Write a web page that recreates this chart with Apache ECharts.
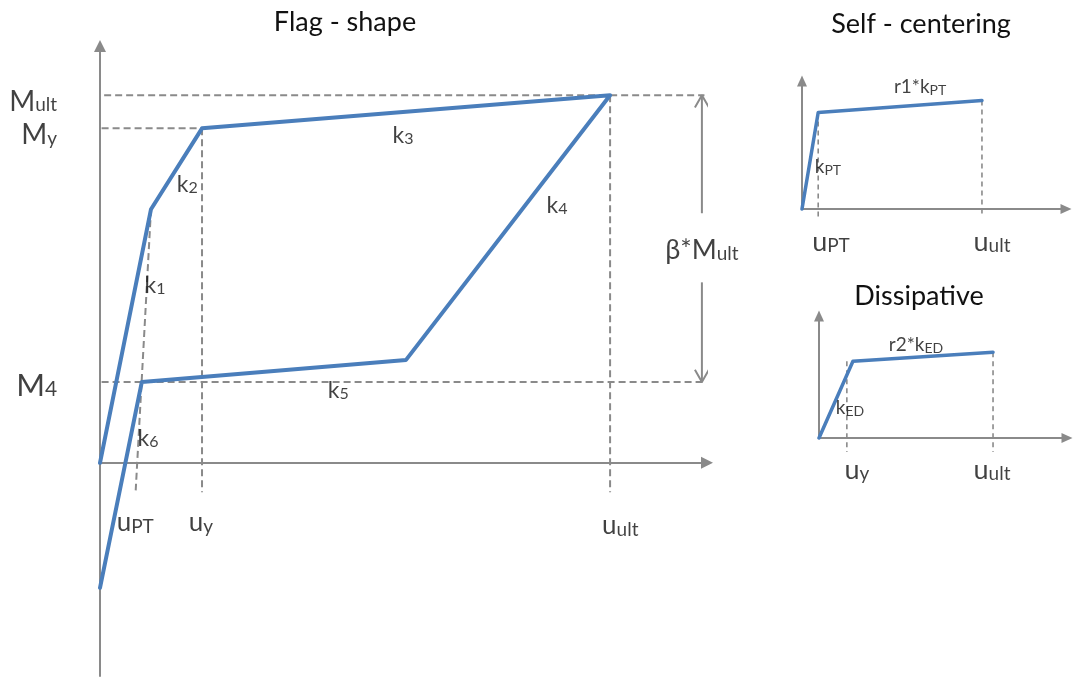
<!DOCTYPE html>
<html>
<head>
<meta charset="utf-8">
<script src="https://cdn.jsdelivr.net/npm/echarts@6/dist/echarts.min.js"></script>
<style>
  html, body { margin: 0; padding: 0; background: #fff; }
  #chart { width: 1075px; height: 677px; }
</style>
</head>
<body>
<div id="chart"></div>
<script>
// ---- Flag-shaped hysteresis (moment M against displacement u) ----
const M_ult = 100, M_y = 91, M_4 = 22;
const u_PT = 0.82, u_y = 2, u_ult = 10;
const flagU = [0, 1, u_y, u_ult, 6, u_PT, 0];
const flagM = [0, 69, M_y, M_ult, 28, M_4, -34];
const betaX = 11.8;                 // position of the beta*M_ult dimension arrow
const betaGap = [49.1, 67.9];       // gap left open for its caption

// ---- Self-centering component ----
const scU = [0, 0.9, 10];
const scF = [0, 7.2, 8.1];

// ---- Dissipative component ----
const dsU = [0, 1.95, 10];
const dsF = [0, 6.0, 6.7];
const ds_uy = 1.6;

// ---- Annotations (anchored in each plot's own units) ----
const mainMLabels = [
  { text: '{a|M}{s|ult}', x: -0.84, y: 98.3 },
  { text: '{a|M}{s|y}',   x: -0.84, y: 89.1 }
];
const mainM4Label = [{ text: '{a|M}{s|4}', x: -0.84, y: 20.8 }];
const mainKLabels = [
  { text: '{a|k}{s|1}', x: 1.08, y: 48.3 },
  { text: '{a|k}{s|2}', x: 1.71, y: 75.8 },
  { text: '{a|k}{s|3}', x: 5.94, y: 89.1 },
  { text: '{a|k}{s|4}', x: 8.96, y: 70.1 },
  { text: '{a|k}{s|5}', x: 4.67, y: 19.7 },
  { text: '{a|k}{s|6}', x: 0.94, y: 6.7 }
];
const mainULabels = [
  { text: '{a|u}{s|PT}',  x: 0.69,  y: -16.3 },
  { text: '{a|u}{s|y}',   x: 1.98,  y: -16.3 },
  { text: '{a|u}{s|ult}', x: 10.2,  y: -17.0 }
];
const betaLabel = [{ text: '{a|β*M}{s|ult}', x: betaX, y: 57.8 }];

const scSmall = [
  { text: '{a|r1*k}{s|PT}', x: 6.56, y: 9.1 },
  { text: '{a|k}{s|PT}',    x: 1.44, y: 3.13 }
];
const scU_labels = [
  { text: '{a|u}{s|PT}',  x: 1.61,  y: -2.46 },
  { text: '{a|u}{s|ult}', x: 10.56, y: -2.46 }
];
const dsSmall = [
  { text: '{a|r2*k}{s|ED}', x: 5.57, y: 7.27 },
  { text: '{a|k}{s|ED}',    x: 1.78, y: 2.34 }
];
const dsU_labels = [
  { text: '{a|u}{s|y}',   x: 2.18, y: -2.5 },
  { text: '{a|u}{s|ult}', x: 9.94, y: -2.5 }
];

const titles = [
  { text: 'Flag - shape',     x: 345, y: 22 },
  { text: 'Self - centering', x: 921, y: 24 },
  { text: 'Dissipative',      x: 919, y: 296 }
];

// ---- styles ----
const FONT = 'Lato, "Open Sans", sans-serif';
const BLUE = '#4a7ebb';
const AXIS = '#8a8a8a';
const DASH = '#8a8a8a';
const INK = '#111111';

function zip(xs, ys) { return xs.map((x, i) => [x, ys[i]]); }

function axisPair(min, max, arrow) {
  return {
    type: 'value', min: min, max: max,
    axisLine: { show: true, onZero: true, symbol: ['none', 'triangle'], symbolSize: arrow,
      lineStyle: { color: AXIS, width: 2 } },
    axisTick: { show: false }, axisLabel: { show: false }, splitLine: { show: false }
  };
}

function curve(idx, pts, width) {
  return { type: 'line', xAxisIndex: idx, yAxisIndex: idx, data: pts, symbol: 'none',
    clip: false, silent: true, z: 4, lineStyle: { color: BLUE, width: width, cap: 'round', join: 'round' } };
}

function guide(idx, pts, width, dash) {
  return { type: 'line', xAxisIndex: idx, yAxisIndex: idx, data: pts, symbol: 'none',
    clip: false, silent: true, z: 3, lineStyle: { color: DASH, width: width, type: dash } };
}

function solid(idx, pts) {
  return { type: 'line', xAxisIndex: idx, yAxisIndex: idx, data: pts, symbol: 'none',
    clip: false, silent: true, z: 3, lineStyle: { color: AXIS, width: 2 } };
}

// rich-text labels: "a" is the main glyph, "s" the subscript pushed down by padding
function labels(idx, items, base, sub, drop, pos) {
  return {
    type: 'scatter', xAxisIndex: idx, yAxisIndex: idx, symbolSize: 0, silent: true, z: 6,
    clip: false,
    data: items.map(d => ({ value: [d.x, d.y], name: d.text })),
    labelLayout: { hideOverlap: false },
    label: {
      show: true, position: pos || 'inside', distance: 0,
      offset: [0, drop / 2],
      formatter: p => p.name,
      rich: {
        a: { fontFamily: FONT, fontSize: base, lineHeight: base, color: INK,
             verticalAlign: 'top', padding: [0, 0, drop, 0] },
        s: { fontFamily: FONT, fontSize: sub, lineHeight: base, color: INK,
             verticalAlign: 'top', padding: [drop, 0, 0, 0] }
      }
    }
  };
}

// dimension-arrow chevrons, sized in plot units
const chevDX = 0.137, chevDY = 3.3;

const option = {
  animation: false,
  backgroundColor: '#ffffff',
  graphic: titles.map(t => ({
    type: 'text', x: t.x, y: t.y,
    style: { text: t.text, fill: INK, font: '27px ' + FONT, textAlign: 'center', textVerticalAlign: 'middle' }
  })),
  grid: [
    { left: 100, top: 46, width: 607, height: 630 },
    { left: 802, top: 81, width: 264, height: 128 },
    { left: 819, top: 316, width: 248, height: 122 }
  ],
  xAxis: [
    Object.assign(axisPair(0, 11.9, [12, 12]), { gridIndex: 0 }),
    Object.assign(axisPair(0, 14.67, [10, 11]), { gridIndex: 1 }),
    Object.assign(axisPair(0, 14.25, [10, 11]), { gridIndex: 2 })
  ],
  yAxis: [
    Object.assign(axisPair(-58, 113.4, [12, 12]), { gridIndex: 0 }),
    Object.assign(axisPair(0, 9.55, [10, 11]), { gridIndex: 1 }),
    Object.assign(axisPair(0, 9.53, [10, 11]), { gridIndex: 2 })
  ],
  series: [
    // main plot guides
    guide(0, [[-0.35, M_ult], [11.85, M_ult]], 2, [7, 4]),
    guide(0, [[-0.4, M_y], [u_y, M_y]], 2, [7, 4]),
    guide(0, [[-0.4, M_4], [11.85, M_4]], 2, [7, 4]),
    guide(0, [[flagU[1], flagM[1]], [0.7, -7.5]], 2, [7, 4]),
    guide(0, [[u_y, M_y], [u_y, -8]], 2, [7, 4]),
    guide(0, [[u_ult, M_ult], [u_ult, -8]], 2, [7, 4]),
    // beta * M_ult dimension arrow
    solid(0, [[betaX, betaGap[1]], [betaX, M_ult]]),
    solid(0, [[betaX - chevDX, M_ult - chevDY], [betaX, M_ult], [betaX + chevDX, M_ult - chevDY]]),
    solid(0, [[betaX, betaGap[0]], [betaX, M_4]]),
    solid(0, [[betaX - chevDX, M_4 + chevDY], [betaX, M_4], [betaX + chevDX, M_4 + chevDY]]),
    // flag-shaped loop
    curve(0, zip(flagU, flagM), 4),

    // self-centering plot
    guide(1, [[scU[1], scF[1]], [scU[1], -0.6]], 1.6, [5, 4]),
    guide(1, [[scU[2], scF[2]], [scU[2], -0.6]], 1.6, [5, 4]),
    curve(1, zip(scU, scF), 3.5),

    // dissipative plot
    guide(2, [[ds_uy, dsF[1]], [ds_uy, -1.1]], 1.6, [5, 4]),
    guide(2, [[dsU[2], dsF[2]], [dsU[2], -1.1]], 1.6, [5, 4]),
    curve(2, zip(dsU, dsF), 3.5),

    // annotations
    labels(0, mainMLabels, 28, 19, 8, 'left'),
    labels(0, mainM4Label, 31, 21, 8, 'left'),
    labels(0, mainKLabels, 23, 16, 7),
    labels(0, betaLabel, 27, 19, 8),
    labels(0, mainULabels, 26, 19, 8),
    labels(1, scSmall, 19, 14, 6),
    labels(1, scU_labels, 27, 19, 8),
    labels(2, dsSmall, 19, 14, 6),
    labels(2, dsU_labels, 27, 19, 8)
  ]
};

const chart = echarts.init(document.getElementById('chart'), null, { renderer: 'canvas' });
chart.setOption(option);
</script>
</body>
</html>
